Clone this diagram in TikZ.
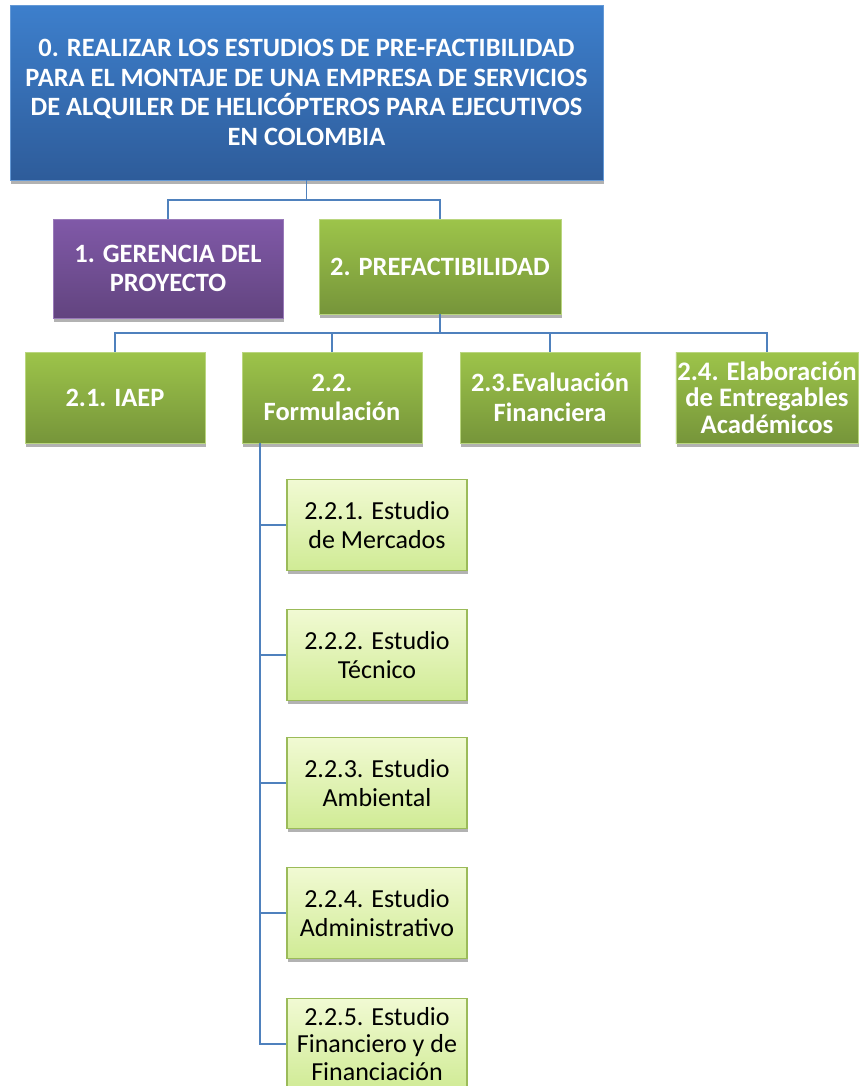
\documentclass[tikz,border=0pt]{standalone}
\usepackage{fontspec}
\setmainfont{Carlito}
\usepackage{xcolor}
\usetikzlibrary{positioning, calc, shadows}
\definecolor{wbsblueT}{HTML}{3D7FCC}
\definecolor{wbsblueB}{HTML}{2E5C9A}
\definecolor{wbspurpT}{HTML}{8059A8}
\definecolor{wbspurpB}{HTML}{62447F}
\definecolor{wbsgreenT}{HTML}{9DC44A}
\definecolor{wbsgreenB}{HTML}{76953A}
\definecolor{wbslightT}{HTML}{F1FAD3}
\definecolor{wbslightB}{HTML}{D0EB95}
\definecolor{wbsedge}{HTML}{9BBB59}
\definecolor{wbsline}{HTML}{4F81BD}
\tikzset{
  wbsshadow/.style={drop shadow={shadow xshift=0.6pt, shadow yshift=-2.5pt, opacity=0.3, fill=black}},
  topbox/.style={
    draw=wbsblueT!80!white, line width=0.4pt, align=center,
    top color=wbsblueT, bottom color=wbsblueB, wbsshadow,
    text=white, font=\bfseries\fontsize{18.8}{21}\selectfont,
    minimum width=14.825cm, minimum height=4.375cm, inner sep=2pt
  },
  mgmtbox/.style={
    draw=wbspurpT!80!white, line width=0.4pt, align=center,
    top color=wbspurpT, bottom color=wbspurpB, wbsshadow,
    text=white, font=\bfseries\fontsize{18.8}{21}\selectfont,
    minimum width=5.75cm, minimum height=2.475cm, inner sep=1pt
  },
  phasebox/.style={
    draw=wbsgreenT!70!white, line width=0.4pt, align=center,
    top color=wbsgreenT, bottom color=wbsgreenB, wbsshadow,
    text=white, font=\bfseries\fontsize{18.8}{21}\selectfont,
    minimum width=4.5cm, minimum height=2.275cm, inner sep=1pt
  },
  subbox/.style={
    draw=wbsedge, line width=0.8pt, align=center,
    top color=wbslightT, bottom color=wbslightB, wbsshadow,
    text=black, font=\fontsize{18.5}{21}\selectfont,
    minimum width=4.5cm, minimum height=2.275cm, inner sep=1pt
  },
  wbsconn/.style={draw=wbsline, line width=1.4pt},
}
\begin{document}
\begin{tikzpicture}
  \useasboundingbox (0,0) rectangle (21.525,-27.15);

  % Level 0
  \node[topbox] (goal) at (7.6625,-2.3125) {0. REALIZAR LOS ESTUDIOS DE PRE-FACTIBILIDAD\\PARA EL MONTAJE DE UNA EMPRESA DE SERVICIOS\\DE ALQUILER DE HELICÓPTEROS PARA EJECUTIVOS\\EN COLOMBIA};

  % Level 1
  \node[mgmtbox] (gerencia) at (4.2,-6.7125) {1. GERENCIA DEL\\PROYECTO};
  \node[phasebox, minimum width=6.05cm, minimum height=2.375cm] (prefact) at (11.0,-6.6625) {2. PREFACTIBILIDAD};

  % Level 2
  \node[phasebox] (iaep) at (2.875,-9.9375) {2.1. IAEP};
  \node[phasebox] (formul) at (8.3,-9.9375) {2.2.\\Formulación};
  \node[phasebox] (evalfin) at (13.75,-9.9375) {2.3.Evaluación\\Financiera};
  \node[phasebox, font=\bfseries\fontsize{19}{19}\selectfont] (entreg) at (19.175,-9.9375) {2.4. Elaboración\\de Entregables\\Académicos};

  % Level 3
  \node[subbox] (mercado) at (9.425,-13.125) {2.2.1. Estudio\\de Mercados};
  \node[subbox] (tecnico) at (9.425,-16.375) {2.2.2. Estudio\\Técnico};
  \node[subbox] (ambiental) at (9.425,-19.575) {2.2.3. Estudio\\Ambiental};
  \node[subbox] (admin) at (9.425,-22.825) {2.2.4. Estudio\\Administrativo};
  \node[subbox, font=\fontsize{18.5}{19.5}\selectfont] (financ) at (9.425,-26.1) {2.2.5. Estudio\\Financiero y de\\Financiación};

  % Connectors
  \coordinate (busA) at (0,-5.0);
  \coordinate (busB) at (0,-8.325);
  \coordinate (spine) at (6.5,0);
  \begin{scope}[on background layer/.try]
  \draw[wbsconn] (goal.south) -- (goal.south |- busA) -| (gerencia.north);
  \draw[wbsconn] (goal.south |- busA) -| (prefact.north);
  \draw[wbsconn] (prefact.south) -- (prefact.south |- busB) -| (iaep.north);
  \draw[wbsconn] (prefact.south |- busB) -| (entreg.north);
  \draw[wbsconn] (formul.north |- busB) -- (formul.north);
  \draw[wbsconn] (evalfin.north |- busB) -- (evalfin.north);
  \draw[wbsconn] (spine |- formul.south) |- (financ.west);
  \foreach \sub in {mercado, tecnico, ambiental, admin}
    \draw[wbsconn] (spine |- \sub.west) -- (\sub.west);
  \end{scope}
\end{tikzpicture}
\end{document}
